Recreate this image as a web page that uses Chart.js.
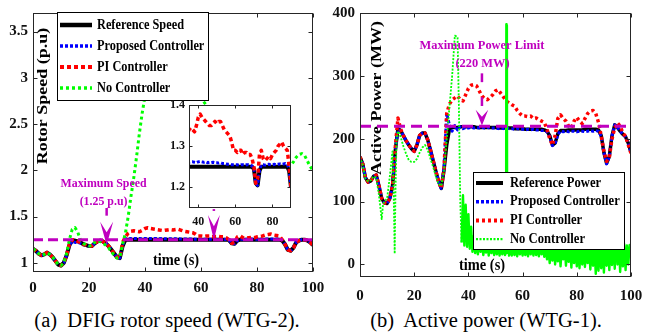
<!DOCTYPE html>
<html>
<head>
<meta charset="utf-8">
<title>DFIG rotor speed / active power</title>
<script src="https://cdn.jsdelivr.net/npm/chart.js@4.4.1/dist/chart.umd.min.js"></script>
<style>
  body { margin: 0; width: 654px; height: 334px; background: #fff; position: relative; overflow: hidden; }
  canvas { position: absolute; }
  .cap { position: absolute; top: 307px; font: 20.5px "Liberation Serif", serif; text-align: center; white-space: pre; line-height: 26px; color: #000; }
</style>
</head>
<body>
<canvas id="speedChart" width="327" height="305" style="left:0;top:0"></canvas>
<canvas id="powerChart" width="327" height="305" style="left:327px;top:0"></canvas>
<canvas id="insetChart" width="140" height="140" style="left:160px;top:95px"></canvas>
<div class="cap" style="left:0;width:334px">(a)  DFIG rotor speed (WTG-2).</div>
<div class="cap" style="left:327px;width:318px">(b)  Active power (WTG-1).</div>
<script>
// ---- (a) rotor speed, one value per second, 0..100 s
const tSpeed = [...Array(101).keys()];
const refSpeed = [
  1.15, 1.13, 1.10, 1.08, 1.09, 1.11, 1.09, 1.06, 1.02, 0.98,
  0.97, 1.00, 1.08, 1.19, 1.24, 1.24, 1.23, 1.22, 1.20, 1.19,
  1.18, 1.18, 1.21, 1.23, 1.24, 1.23, 1.21, 1.18, 1.14, 1.10,
  1.06, 1.05, 1.18, 1.25, 1.25, 1.25, 1.25, 1.25, 1.25, 1.25,
  1.25, 1.25, 1.25, 1.25, 1.25, 1.25, 1.25, 1.25, 1.25, 1.25,
  1.25, 1.25, 1.25, 1.25, 1.25, 1.25, 1.25, 1.25, 1.25, 1.25,
  1.25, 1.25, 1.25, 1.25, 1.25, 1.25, 1.25, 1.25, 1.25, 1.25,
  1.245, 1.21, 1.205, 1.24, 1.25, 1.25, 1.25, 1.25, 1.25, 1.25,
  1.25, 1.25, 1.25, 1.25, 1.25, 1.25, 1.25, 1.25, 1.25, 1.24,
  1.20, 1.14, 1.13, 1.16, 1.22, 1.24, 1.25, 1.25, 1.24, 1.22, 1.19
];
const propSpeed = [
  1.15, 1.13, 1.10, 1.08, 1.09, 1.11, 1.09, 1.06, 1.02, 0.98,
  0.97, 1.00, 1.08, 1.19, 1.23, 1.22, 1.22, 1.21, 1.20, 1.19,
  1.18, 1.18, 1.21, 1.23, 1.24, 1.23, 1.21, 1.18, 1.14, 1.10,
  1.06, 1.05, 1.19, 1.26, 1.26, 1.261, 1.262, 1.262, 1.261, 1.26,
  1.262, 1.263, 1.262, 1.261, 1.262, 1.26, 1.261, 1.26, 1.261, 1.26,
  1.26, 1.259, 1.26, 1.258, 1.258, 1.257, 1.256, 1.256, 1.255, 1.255,
  1.255, 1.255, 1.254, 1.255, 1.255, 1.254, 1.255, 1.255, 1.254, 1.252,
  1.245, 1.21, 1.205, 1.24, 1.255, 1.255, 1.254, 1.255, 1.256, 1.255,
  1.255, 1.256, 1.255, 1.256, 1.257, 1.256, 1.257, 1.258, 1.256, 1.245,
  1.20, 1.14, 1.13, 1.16, 1.22, 1.24, 1.25, 1.25, 1.24, 1.22, 1.19
];
const piSpeed = [
  1.15, 1.13, 1.10, 1.08, 1.09, 1.11, 1.09, 1.06, 1.02, 0.98,
  0.97, 1.00, 1.08, 1.20, 1.25, 1.25, 1.23, 1.22, 1.20, 1.19,
  1.18, 1.18, 1.21, 1.23, 1.24, 1.23, 1.21, 1.18, 1.14, 1.10,
  1.06, 1.05, 1.22, 1.28, 1.32, 1.34, 1.345, 1.34, 1.335, 1.35,
  1.37, 1.378, 1.37, 1.365, 1.36, 1.355, 1.35, 1.35, 1.355, 1.36,
  1.355, 1.36, 1.36, 1.35, 1.34, 1.335, 1.33, 1.325, 1.31, 1.29,
  1.29, 1.285, 1.29, 1.29, 1.28, 1.285, 1.285, 1.28, 1.28, 1.27,
  1.25, 1.21, 1.22, 1.28, 1.29, 1.27, 1.265, 1.27, 1.275, 1.27,
  1.28, 1.285, 1.29, 1.30, 1.305, 1.31, 1.30, 1.295, 1.29, 1.25,
  1.20, 1.14, 1.13, 1.16, 1.22, 1.24, 1.25, 1.25, 1.24, 1.22, 1.19
];
const noSpeed = [
  1.15, 1.13, 1.10, 1.08, 1.09, 1.11, 1.09, 1.06, 1.02, 0.98,
  0.97, 1.00, 1.10, 1.25, 1.36, 1.38, 1.33, 1.24, 1.21, 1.19,
  1.18, 1.19, 1.22, 1.24, 1.23, 1.21, 1.19, 1.16, 1.12, 1.08,
  1.05, 1.06, 1.20, 1.32, 1.50, 1.72, 1.92, 2.15, 2.40, 2.62,
  2.80, 2.95, 3.08, 3.18, 3.25, 3.30, 3.33, 3.35, 3.35, 3.33,
  3.30, 3.26, 3.22, 3.17, 3.12, 3.06, 3.00, 2.94, 2.88, 2.82,
  2.78, 2.74, 2.70, 2.65, 2.60, 2.55, 2.50, 2.45, 2.40, 2.36,
  2.32, 2.28, 2.25, 2.22, 2.19, 2.16, 2.14, 2.12, 2.10, 2.09,
  2.08, 2.07, 2.06, 2.06, 2.05, 2.05, 2.05, 2.05, 2.05, 2.05,
  2.05, 2.04, 2.05, 2.09, 2.14, 2.17, 2.18, 2.16, 2.10, 2.04, 2.00
];
const speedLimit = 1.25;
const speedXTicks = [0, 20, 40, 60, 80, 100];
const speedYTicks = [1, 1.5, 2, 2.5, 3, 3.5];
const insetXTicks = [40, 60, 80];
const insetYTicks = [1.2, 1.3, 1.4];

// ---- (b) active power (MW)
const tPower = [...Array(101).keys()];
const refPower = [
  171, 160, 138, 131, 133, 140, 142, 125, 105, 98,
  97, 105, 125, 180, 216, 213, 205, 197, 190, 184,
  180, 190, 205, 209, 209, 198, 182, 165, 148, 132,
  121, 150, 190, 215, 218, 218, 218, 219, 219, 219,
  219, 219, 219, 218, 218, 218, 218, 218, 218, 218,
  218, 217, 217, 217, 217, 217, 217, 216, 216, 216,
  216, 215, 215, 215, 215, 215, 215, 215, 214, 212,
  205, 190, 193, 208, 213, 213, 213, 214, 214, 214,
  214, 214, 214, 215, 215, 215, 215, 215, 214, 205,
  178, 161, 172, 205, 222, 218, 212, 207, 203, 193, 178
];
const propPower = [
  171, 160, 138, 131, 133, 140, 142, 125, 105, 98,
  97, 105, 125, 180, 214, 213, 205, 197, 190, 184,
  180, 190, 205, 209, 209, 198, 182, 165, 148, 132,
  121, 155, 240, 222, 212, 221, 214, 219, 216, 218,
  217, 218, 217, 218, 217, 218, 217, 218, 217, 217,
  217, 216, 217, 216, 217, 216, 216, 215, 216, 215,
  215, 214, 215, 214, 215, 214, 214, 213, 213, 211,
  203, 189, 192, 207, 212, 211, 212, 211, 212, 212,
  211, 212, 212, 211, 212, 213, 212, 213, 212, 204,
  178, 160, 171, 205, 222, 218, 212, 207, 203, 193, 178
];
const piPower = [
  171, 160, 138, 131, 133, 140, 142, 125, 105, 98,
  97, 105, 125, 185, 233, 215, 205, 197, 190, 184,
  180, 190, 205, 209, 209, 198, 182, 165, 148, 132,
  121, 152, 240, 255, 262, 265, 268, 262, 260, 270,
  280, 285, 286, 284, 276, 268, 264, 262, 266, 270,
  276, 278, 272, 266, 260, 257, 254, 252, 245, 240,
  236, 236, 235, 236, 232, 233, 230, 228, 226, 215,
  200, 190, 205, 232, 238, 232, 228, 220, 217, 228,
  234, 228, 224, 232, 240, 244, 245, 240, 226, 205,
  180, 164, 170, 200, 217, 225, 220, 209, 204, 190, 177
];
const tNoPower = [
  0, 1, 2, 3, 4, 5, 6, 7, 8, 8.5, 9, 10, 11, 12, 12.4, 12.8, 13.1, 13.5, 14, 15,
  16, 17, 18, 19, 20, 21, 22, 23, 24, 25, 26, 27, 28, 29, 30, 31, 32, 33, 34, 35,
  36, 36.5, 37, 37.5, 38, 38.5, 39, 39.5, 40, 40.5, 41, 41.5, 42, 42.5, 43, 43.5, 44, 44.5, 45, 45.5,
  46, 46.5, 47, 47.5, 48, 48.5, 49, 49.5, 50, 50.5, 51, 51.5, 52, 52.5, 53, 53.5, 53.9, 54, 54.05, 54.1,
  54.15, 54.2, 54.3, 54.5, 55, 55.5, 56, 56.5, 57, 57.5, 58, 58.5, 59, 59.5, 60, 60.5, 61, 61.5, 62, 62.5,
  63, 63.5, 64, 64.5, 65, 65.5, 66, 66.5, 67, 67.5, 68, 68.5, 69, 69.5, 70, 70.5, 71, 71.5, 72, 72.5,
  73, 73.5, 74, 74.5, 75, 75.5, 76, 76.5, 77, 77.5, 78, 78.5, 79, 79.5, 80, 80.5, 81, 81.5, 82, 82.5,
  83, 83.5, 84, 84.5, 85, 85.5, 86, 86.5, 87, 87.5, 88, 88.5, 89, 89.5, 90, 90.5, 91, 91.5, 92, 92.5,
  93, 93.5, 94, 94.5, 95, 95.5, 96, 96.5, 97, 97.5, 98, 98.5, 99, 99.5, 100
];
const noPower = [
  171, 158, 136, 132, 134, 140, 138, 110, 72, 95, 100, 105, 140, 180, 120, 17, 120, 200, 212, 203,
  188, 176, 166, 163, 163, 168, 178, 186, 190, 182, 168, 155, 140, 128, 125, 150, 200, 250, 300, 364,
  362, 250, 100, 35, 110, 30, 95, 28, 80, 25, 60, 20, 45, 18, 35, 16, 32, 20, 34, 15,
  30, 19, 33, 14, 29, 18, 31, 15, 28, 16, 30, 14, 27, 16, 29, 15, 20, 382, 20, 382,
  18, 380, 22, 90, 14, 30, 14, 28, 15, 30, 13, 27, 16, 29, 14, 28, 15, 30, 13, 27,
  16, 28, 14, 30, 15, 27, 13, 29, 16, 28, 12, 30, 8, 28, 2, 30, 6, 31, 0, 28,
  5, 31, -3, 28, 8, 31, -2, 29, 4, 30, -5, 30, 2, 31, -3, 28, -6, 30, 0, 31,
  -4, 28, 2, 30, -8, 29, -2, 31, -15, 30, -10, 32, -6, 31, -13, 35, -2, 31, -9, 33,
  -1, 40, -7, 60, 0, 35, -12, 31, -3, 32, -9, 30, 0, 31, 28
];
const powerLimit = 220;
const powerXTicks = [0, 20, 40, 60, 80, 100];
const powerYTicks = [0, 100, 200, 300, 400];

const MAG = '#bf00bf';
const SERIF = '"Liberation Serif", "Times New Roman", serif';

function txt(ctx, s, x, y, size, color, o = {}) {
  ctx.save();
  ctx.translate(x, y);
  if (o.rot) ctx.rotate(o.rot);
  ctx.scale(o.sx || 1, o.sy || 1);
  ctx.font = `bold ${size}px ${SERIF}`;
  ctx.fillStyle = color;
  ctx.textAlign = o.align || 'center';
  ctx.textBaseline = 'middle';
  ctx.fillText(s, 0, 0);
  ctx.restore();
}

// matlab-like box: inner ticks on all sides, titles, notes, arrows, legend
const matlabBox = {
  id: 'matlabBox',
  beforeDraw(chart, args, o) {
    if (!o.fill) return;
    const a = chart.chartArea, ctx = chart.ctx;
    ctx.save();
    ctx.fillStyle = o.fill;
    ctx.fillRect(a.left, a.top, a.right - a.left, a.bottom - a.top);
    ctx.restore();
  },
  beforeDatasetsDraw(chart, args, o) {
    (o.titles || []).forEach(t => txt(chart.ctx, t.text, t.x, t.y, t.size, '#000', t));
  },
  afterDatasetsDraw(chart, args, o) {
    const {ctx, scales: {x, y}} = chart;
    (o.notes || []).forEach(n => txt(ctx, n.text, x.getPixelForValue(n.t), y.getPixelForValue(n.v), n.size, MAG, n));
    (o.arrows || []).forEach(a => {
      const px = x.getPixelForValue(a.t);
      ctx.save();
      ctx.strokeStyle = MAG;
      ctx.fillStyle = MAG;
      ctx.lineWidth = 2.5;
      (a.shaft || []).forEach(([v1, v2]) => {
        ctx.beginPath();
        ctx.moveTo(px, y.getPixelForValue(v1));
        ctx.lineTo(px, y.getPixelForValue(v2));
        ctx.stroke();
      });
      const yt = y.getPixelForValue(a.head[0]), yp = y.getPixelForValue(a.head[1]);
      ctx.beginPath();
      ctx.moveTo(px, yp);
      ctx.lineTo(px - a.half, yt);
      ctx.lineTo(px, yt + (yp - yt) * 0.45);
      ctx.lineTo(px + a.half, yt);
      ctx.closePath();
      ctx.fill();
      ctx.restore();
    });
  },
  afterDraw(chart, args, o) {
    const {ctx, chartArea: a, scales: {x, y}} = chart;
    const L = o.tick || 4;
    const l = Math.round(a.left) + 0.5, r = Math.round(a.right) - 0.5;
    const t = Math.round(a.top) + 0.5, b = Math.round(a.bottom) - 0.5;
    ctx.save();
    ctx.strokeStyle = '#262626';
    ctx.lineWidth = 1;
    ctx.strokeRect(l, t, r - l, b - t);
    ctx.beginPath();
    x.ticks.forEach(k => {
      const p = Math.round(x.getPixelForValue(k.value)) + 0.5;
      ctx.moveTo(p, b); ctx.lineTo(p, b - L);
      ctx.moveTo(p, t); ctx.lineTo(p, t + L);
    });
    y.ticks.forEach(k => {
      const p = Math.round(y.getPixelForValue(k.value)) + 0.5;
      ctx.moveTo(l, p); ctx.lineTo(l + L, p);
      ctx.moveTo(r, p); ctx.lineTo(r - L, p);
    });
    ctx.stroke();
    ctx.restore();

    const g = o.legend;
    if (!g) return;
    ctx.save();
    ctx.fillStyle = '#fff';
    ctx.fillRect(g.x, g.y, g.w, g.h);
    ctx.strokeStyle = '#000';
    ctx.lineWidth = 1;
    ctx.strokeRect(g.x + 0.5, g.y + 0.5, g.w, g.h);
    chart.data.datasets.slice(0, 4).forEach((d, i) => {
      const yy = g.row0 + i * g.step;
      ctx.save();
      ctx.strokeStyle = d.borderColor;
      ctx.lineWidth = d.borderWidth + 0.5;
      ctx.setLineDash(d.borderDash || []);
      ctx.beginPath();
      ctx.moveTo(g.s0, yy);
      ctx.lineTo(g.s1, yy);
      ctx.stroke();
      ctx.restore();
      txt(ctx, d.label, g.tx, yy, g.size, '#000', {align: 'left', sx: g.sx});
    });
    ctx.restore();
  }
};

const line = (label, xs, ys, color, width, dash, order) => ({
  label,
  data: xs.map((x, i) => ({x, y: ys[i]})),
  borderColor: color,
  borderWidth: width,
  borderDash: dash,
  order,
  pointRadius: 0,
  tension: 0,
  fill: false,
  clip: 0,
  borderJoinStyle: 'round',
  borderCapStyle: 'butt'
});

function scaleX(min, max, list, pad, h, size) {
  return {
    type: 'linear', min, max,
    grid: {display: false, drawTicks: false},
    border: {display: false},
    ticks: {padding: pad, autoSkip: false, maxRotation: 0, color: '#111',
      font: {family: SERIF, size, weight: 'bold'}, callback: v => String(v)},
    afterBuildTicks: s => { s.ticks = list.map(value => ({value})); },
    afterFit: s => { s.height = h; s.paddingLeft = 0; s.paddingRight = 0; }
  };
}
function scaleY(min, max, list, pad, w, size) {
  return {
    type: 'linear', min, max,
    grid: {display: false, drawTicks: false},
    border: {display: false},
    ticks: {padding: pad, autoSkip: false, color: '#111',
      font: {family: SERIF, size, weight: 'bold'}, callback: v => String(v)},
    afterBuildTicks: s => { s.ticks = list.map(value => ({value})); },
    afterFit: s => { s.width = w; s.paddingTop = 0; s.paddingBottom = 0; }
  };
}

const base = {responsive: false, animation: false, devicePixelRatio: 1, events: []};

const speedSets = () => [
  line('Reference Speed', tSpeed, refSpeed, '#000000', 4, [], 4),
  line('Proposed Controller', tSpeed, propSpeed, '#0000ff', 3, [3, 2], 3),
  line('PI Controller', tSpeed, piSpeed, '#ff0000', 3.5, [4, 3], 2),
  line('No Controller', tSpeed, noSpeed, '#00ff00', 3, [3, 3], 1),
  line('Maximum Speed', [0, 100], [speedLimit, speedLimit], MAG, 3, [10, 5], 0)
];

new Chart(document.getElementById('speedChart'), {
  type: 'line',
  data: {datasets: speedSets()},
  options: {
    ...base,
    layout: {padding: {left: 3, right: 14, top: 13, bottom: 8}},
    scales: {x: scaleX(0, 100, speedXTicks, 7, 25, 15), y: scaleY(0.9, 3.7, speedYTicks, 5, 30, 15)},
    plugins: {
      legend: {display: false},
      tooltip: {enabled: false},
      matlabBox: {
        titles: [
          {text: 'Rotor Speed (p.u)', x: 43, y: 96, size: 18, rot: -Math.PI / 2, sy: 0.85},
          {text: 'time (s)', x: 176, y: 261, size: 17, sx: 0.85}
        ],
        notes: [
          {text: 'Maximum Speed', t: 25.2, v: 1.851, size: 12.5, sx: 0.95},
          {text: '(1.25 p.u)', t: 25.2, v: 1.66, size: 12.5, sx: 0.95}
        ],
        arrows: [
          {t: 26.3, shaft: [[1.592, 1.509]], head: [1.444, 1.192], half: 6.5},
          {t: 64.6, shaft: [[1.63, 1.61], [1.58, 1.56]], head: [1.516, 1.246], half: 6}
        ],
        legend: {x: 57, y: 12, w: 151, h: 88, row0: 25, step: 21, s0: 60, s1: 92, tx: 97, size: 14, sx: 0.88}
      }
    }
  },
  plugins: [matlabBox]
});

// no-controller trace: the noisy tail after the trip is drawn denser
const noPowerSet = line('No Controller', tNoPower, noPower, '#00ff00', 1.8, [2, 1.5], 1);
noPowerSet.segment = {
  borderWidth: c => (c.p0.parsed.x >= 37.4 ? 2.4 : undefined),
  borderDash: c => (c.p0.parsed.x >= 37.4 ? [] : undefined)
};

new Chart(document.getElementById('powerChart'), {
  type: 'line',
  data: {datasets: [
    line('Reference Power', tPower, refPower, '#000000', 3.5, [], 4),
    line('Proposed Controller', tPower, propPower, '#0000ff', 3, [3, 2], 3),
    line('PI Controller', tPower, piPower, '#ff0000', 3.5, [3, 3], 2),
    noPowerSet,
    line('Maximum Power Limit', [0, 100], [powerLimit, powerLimit], MAG, 3, [11, 6], 0)
  ]},
  options: {
    ...base,
    layout: {padding: {left: 3, right: 23, top: 13, bottom: 3}},
    scales: {x: scaleX(0, 100, powerXTicks, 10, 25, 15), y: scaleY(-20, 400, powerYTicks, 5, 30, 15)},
    plugins: {
      legend: {display: false},
      tooltip: {enabled: false},
      matlabBox: {
        titles: [
          {text: 'Active Power (MW)', x: 50, y: 98, size: 18, rot: -Math.PI / 2, sy: 0.85},
          {text: 'time (s)', x: 155, y: 266, size: 17, sx: 0.85}
        ],
        notes: [
          {text: 'Maximum Power Limit', t: 45, v: 349, size: 13.5, sx: 0.92},
          {text: '(220 MW)', t: 45.2, v: 320, size: 13.5, sx: 0.92}
        ],
        arrows: [
          {t: 45, shaft: [[304, 290], [266, 252]], head: [246, 221], half: 6.3}
        ],
        legend: {x: 146, y: 172, w: 151, h: 77, row0: 183, step: 18.7, s0: 149, s1: 176, tx: 183, size: 14, sx: 0.9}
      }
    }
  },
  plugins: [matlabBox]
});

new Chart(document.getElementById('insetChart'), {
  type: 'line',
  data: {datasets: speedSets().slice(0, 4)},
  options: {
    ...base,
    layout: {padding: {left: 4, right: 9, top: 10, bottom: 7}},
    scales: {x: scaleX(35, 90, insetXTicks, 7, 20, 12), y: scaleY(1.15, 1.4, insetYTicks, 4, 25, 12)},
    plugins: {
      legend: {display: false},
      tooltip: {enabled: false},
      matlabBox: {fill: '#fff', tick: 3}
    }
  },
  plugins: [matlabBox]
});
</script>
</body>
</html>
